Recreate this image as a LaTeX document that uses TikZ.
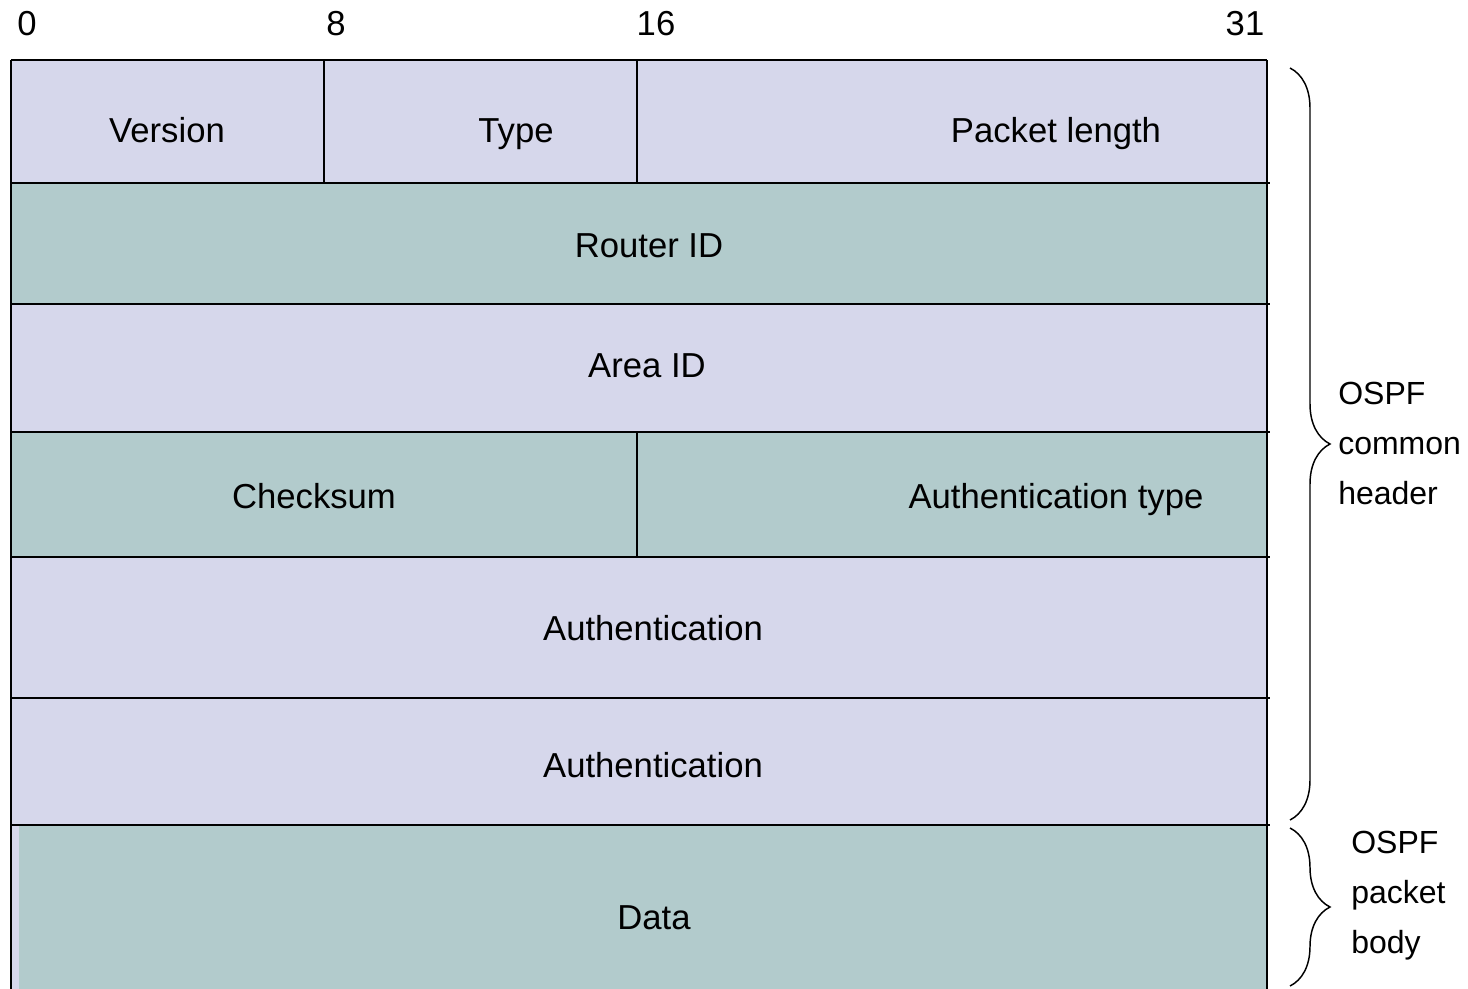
\documentclass[tikz,border=0pt]{standalone}
\usepackage{fontspec}
\setmainfont{Liberation Sans}
\usetikzlibrary{decorations.pathreplacing}
\definecolor{lav}{HTML}{D6D7EB}
\definecolor{teal}{HTML}{B2CBCC}
\begin{document}
\begin{tikzpicture}[x=0.75pt,y=-0.75pt,
  lbl/.style={font=\fontsize{26}{31}\selectfont, inner sep=0pt, text height=0.716em, text depth=0pt, yshift=-5.25pt},
  side/.style={font=\fontsize{24}{37.5}\selectfont, inner sep=0pt, align=left, anchor=west},
  rule/.style={line width=1.6pt, black},
  br/.style={line width=1.1pt, decorate, decoration={brace, amplitude=40*0.75pt, aspect=0.5}}]
\useasboundingbox (0,0) rectangle (1468,989);
% fills
\fill[lav]  (11,60) rectangle (1267,183);
\fill[teal] (11,183) rectangle (1267,304);
\fill[lav]  (11,304) rectangle (1267,432);
\fill[teal] (11,432) rectangle (1267,557);
\fill[lav]  (11,557) rectangle (1267,698);
\fill[lav]  (11,698) rectangle (1267,825);
\fill[lav]  (11,825) rectangle (19,989);
\fill[teal] (19,825) rectangle (1267,989);
% lines
\draw[rule] (11,60) -- (1267,60);
\draw[rule] (11,60) -- (11,989);
\draw[rule] (1267,60) -- (1267,989);
\foreach \yy in {183,304,432,557,698,825} \draw[rule] (11,\yy) -- (1270,\yy);
\draw[rule] (324,60) -- (324,183);
\draw[rule] (637,60) -- (637,183);
\draw[rule] (637,432) -- (637,557);
% bit numbers
\node[lbl] (b0) at (27,24) {0};
\node[lbl] (b8) at (336,24) {8};
\node[lbl] (b16) at (656,24) {16};
\node[lbl] (b31) at (1245,24) {31};
% field labels
\node[lbl] (ver) at (167,131) {Version};
\node[lbl] (typ) at (516,131) {Type};
\node[lbl] (plen) at (1056,131) {Packet length};
\node[lbl] (rid) at (649,246) {Router ID};
\node[lbl] (aid) at (647,366) {Area ID};
\node[lbl] (cks) at (314,497) {Checksum};
\node[lbl] (atype) at (1056,497) {Authentication type};
\node[lbl] (auth1) at (653,629) {Authentication};
\node[lbl] (auth2) at (653,766) {Authentication};
\node[lbl] (data) at (654,918) {Data};
% braces
\coordinate (h1) at (1290,68);
\coordinate (h2) at (1290,820);
\coordinate (p1) at (1290,828);
\coordinate (p2) at (1290,986);
\draw[br] (h1) -- (h2);
\draw[br] (p1) -- (p2);
\node[side] (hdr) at (1338,443) {OSPF\\common\\header};
\node[side] (body) at (1351,896) {OSPF\\packet\\body};
\end{tikzpicture}
\end{document}
